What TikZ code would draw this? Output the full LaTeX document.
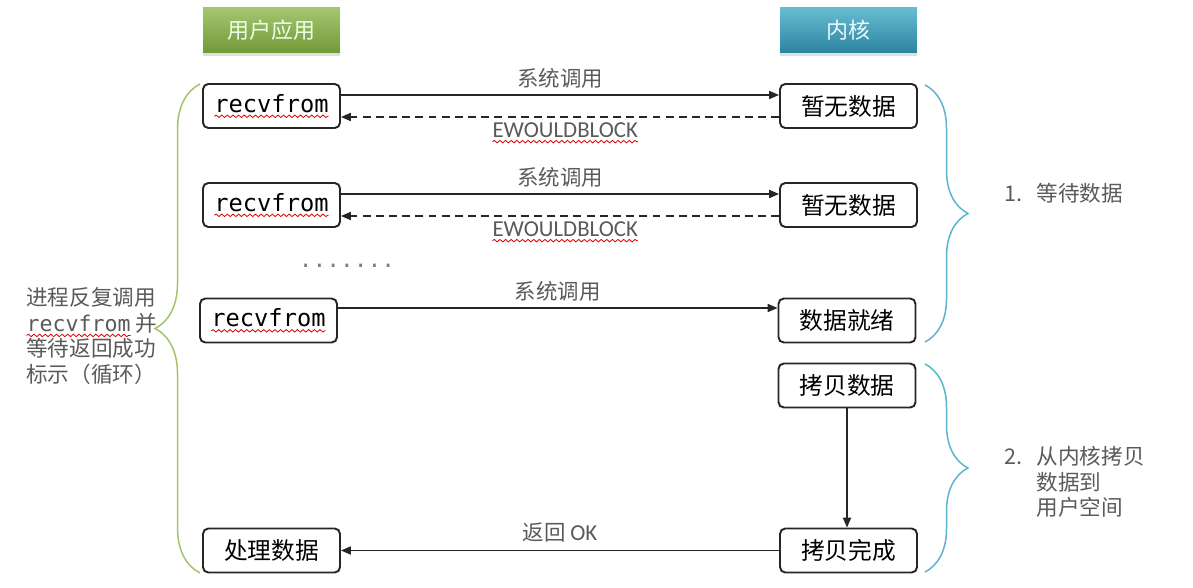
\documentclass[tikz,border=0pt]{standalone}
\usepackage{fontspec}
\setmainfont{Noto Sans CJK SC}
\newfontfamily\latinfont{Carlito}
\setmonofont{DejaVu Sans Mono}
\usepackage{xcolor}
\usetikzlibrary{
  arrows.meta,
  positioning,
  calc,
  shadows,
  decorations.pathreplacing,
  decorations.pathmorphing
}
\definecolor{appgreen}{HTML}{86B441}
\definecolor{kernelblue}{HTML}{35A6C5}
\definecolor{bracegreen}{HTML}{A3C36B}
\definecolor{braceblue}{HTML}{5BB4CF}
\definecolor{labelgray}{HTML}{5A5A5A}
\newcommand{\wavy}[1]{\tikz[baseline=(w.base)]{%
  \node[inner sep=0pt, outer sep=0pt, draw=none, fill=none, rectangle,
    minimum width=0pt, minimum height=0pt, anchor=center] (w) {#1};
  \draw[red!85!black, solid, -, sharp corners, line width=0.45pt,
    decorate, decoration={snake, amplitude=0.7pt, segment length=3.2pt}]
    ([yshift=-2.4pt]w.base west) -- ([yshift=-2.4pt]w.base east);}}
\tikzset{
  head/.style={
    rectangle, minimum width=2.74cm, minimum height=0.92cm,
    drop shadow={opacity=0.25, shadow xshift=0pt, shadow yshift=-1.6pt},
    font=\fontsize{12.5}{15}\selectfont
  },
  app head/.style={
    head, top color=appgreen!75!white, bottom color=appgreen!85!black,
    text=green!8!white
  },
  kernel head/.style={
    head, top color=kernelblue!75!white, bottom color=kernelblue!80!black,
    text=cyan!8!white
  },
  call box/.style={
    draw=black!85, rectangle, rounded corners=3pt, line width=1.1pt,
    fill=white, minimum width=2.74cm, minimum height=0.88cm,
    font=\fontsize{13.5}{16}\selectfont
  },
  call arrow/.style={
    -{Triangle[length=5.6pt, width=4.6pt]}, line width=0.8pt, draw=black!85
  },
  reply arrow/.style={
    call arrow, dash pattern=on 4.5pt off 3pt
  },
  msg label/.style={
    text=labelgray, font=\fontsize{12.2}{14}\selectfont
  },
  note/.style={
    text=labelgray, font=\fontsize{12.3}{14.6}\selectfont
  },
  app brace/.style={
    draw=bracegreen, line width=0.85pt, decorate,
    decoration={brace, amplitude=0.9cm}
  },
  kernel brace/.style={
    draw=braceblue, line width=0.85pt, decorate,
    decoration={brace, amplitude=0.86cm}
  },
}

\begin{document}
\begin{tikzpicture}[x=0.02cm, y=-0.02cm]
  \useasboundingbox (0,0) rectangle (1193,588);

  % Column headers
  \node[app head] (app) at (271.5, 30) {用户应用};
  \node[kernel head] (kernel) at (848.5, 30) {内核};

  % First call
  \node[call box] (call1) at (271.5, 106) {\wavy{\ttfamily recvfrom}};
  \node[call box] (nodata1) at (848.5, 106) {暂无数据};
  \draw[call arrow] ([yshift=0.22cm]call1.east) -- ([yshift=0.22cm]nodata1.west)
    node[midway, above, msg label] {系统调用};
  \draw[reply arrow] ([yshift=-0.22cm]nodata1.west) -- ([yshift=-0.22cm]call1.east)
    node[midway, below, msg label, inner sep=3pt, xshift=3pt] {\wavy{\latinfont\fontsize{13}{15}\selectfont EWOULDBLOCK}};

  % Second call
  \node[call box] (call2) at (271.5, 205) {\wavy{\ttfamily recvfrom}};
  \node[call box] (nodata2) at (848.5, 205) {暂无数据};
  \draw[call arrow] ([yshift=0.22cm]call2.east) -- ([yshift=0.22cm]nodata2.west)
    node[midway, above, msg label] {系统调用};
  \draw[reply arrow] ([yshift=-0.22cm]nodata2.west) -- ([yshift=-0.22cm]call2.east)
    node[midway, below, msg label, inner sep=3pt, xshift=3pt] {\wavy{\latinfont\fontsize{13}{15}\selectfont EWOULDBLOCK}};

  \node[text=gray, font=\ttfamily\fontsize{13}{15}\selectfont] (more) at (347, 266) {.......};

  % Last call, data ready
  \node[call box] (call3) at (268.5, 320.5) {\wavy{\ttfamily recvfrom}};
  \node[call box] (ready) at (847, 320.5) {数据就绪};
  \draw[call arrow] ([yshift=0.25cm]call3.east) -- ([yshift=0.25cm]ready.west)
    node[midway, above, msg label] {系统调用};

  % Copy to user space
  \node[call box] (copy) at (847, 385.5) {拷贝数据};
  \node[call box] (done) at (848.5, 550.5) {拷贝完成};
  \node[call box] (process) at (271.5, 550.5) {处理数据};
  \draw[call arrow] (copy.south) -- (copy.south |- done.north);
  \draw[call arrow] (done.west) -- (process.east)
    node[midway, above, msg label, yshift=1pt] {返回 {\latinfont\fontsize{13}{15}\selectfont OK}};

  % Braces
  \draw[app brace] (200, 573) -- (200, 84);
  \draw[kernel brace] (925, 85) -- (925, 342);
  \draw[kernel brace] (925, 364) -- (925, 572);

  % Notes
  \node[note, anchor=west, align=left] (loop) at (20, 336)
    {进程反复调用\\\wavy{\ttfamily recvfrom} 并\\等待返回成功\\标示（循环）};
  \node[note, anchor=west] (phase1) at (998, 193) {\makebox[1.5em][l]{1.}等待数据};
  \node[note, anchor=west, align=left] (phase2) at (998, 482)
    {\makebox[1.5em][l]{2.}从内核拷贝\\\hspace*{1.5em}数据到\\\hspace*{1.5em}用户空间};

\end{tikzpicture}
\end{document}
